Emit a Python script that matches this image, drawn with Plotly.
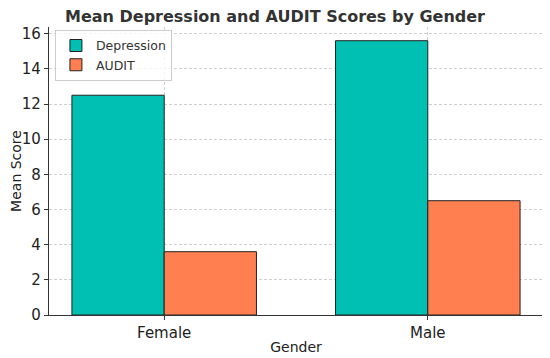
import plotly.graph_objects as go

genders = ["Female", "Male"]
depression = [12.5, 15.6]
audit = [3.6, 6.5]
y_ticks = [0, 2, 4, 6, 8, 10, 12, 14, 16]

pos = list(range(len(genders)))

fig = go.Figure()
fig.add_trace(go.Bar(x=pos, y=depression, name="Depression",
                     marker=dict(color="#00BFB3", line=dict(color="#222222", width=1)),
                     offset=-0.35, width=0.35))
fig.add_trace(go.Bar(x=pos, y=audit, name="AUDIT",
                     marker=dict(color="#FF7F50", line=dict(color="#222222", width=1)),
                     offset=0.0, width=0.35))

# page body has an 8px default margin, so the figure is 542x350 and offset by 8px
fig.update_layout(
    width=542, height=350,
    margin=dict(l=41, r=7, t=19, b=43),
    paper_bgcolor="white", plot_bgcolor="white",
    font=dict(family="DejaVu Sans", color="#222222"),
    title=dict(text="<b>Mean Depression and AUDIT Scores by Gender</b>",
               x=0.4926, xanchor="center", y=0.975, yanchor="middle",
               font=dict(size=16, color="#333333")),
    barmode="overlay",
    showlegend=True,
    legend=dict(x=0.012, y=0.99, xanchor="left", yanchor="top",
                bgcolor="rgba(255,255,255,0.8)", bordercolor="#cccccc", borderwidth=1,
                font=dict(size=12.5, color="#333333"), tracegroupgap=0),
    xaxis=dict(range=[-0.437, 1.437], tickvals=pos, ticktext=genders,
               showgrid=True, gridcolor="#cfcfcf", griddash="3px,2px",
               gridwidth=1, showline=True, linecolor="#333333", linewidth=1.2,
               ticks="outside", ticklen=4, tickcolor="#333333",
               tickfont=dict(size=15, color="#222222"),
               title=dict(text="Gender", font=dict(size=14, color="#222222"), standoff=1),
               zeroline=False, automargin=False),
    yaxis=dict(range=[0, 16.38], tickvals=y_ticks, showgrid=True, gridcolor="#cfcfcf",
               griddash="3px,2px", gridwidth=1, showline=True, linecolor="#333333", linewidth=1.2,
               ticks="outside", ticklen=4, tickcolor="#333333",
               tickfont=dict(size=15, color="#222222"),
               title=dict(text="Mean Score", font=dict(size=14, color="#222222"), standoff=10),
               zeroline=False, automargin=False),
)

fig.write_html("out.html")
